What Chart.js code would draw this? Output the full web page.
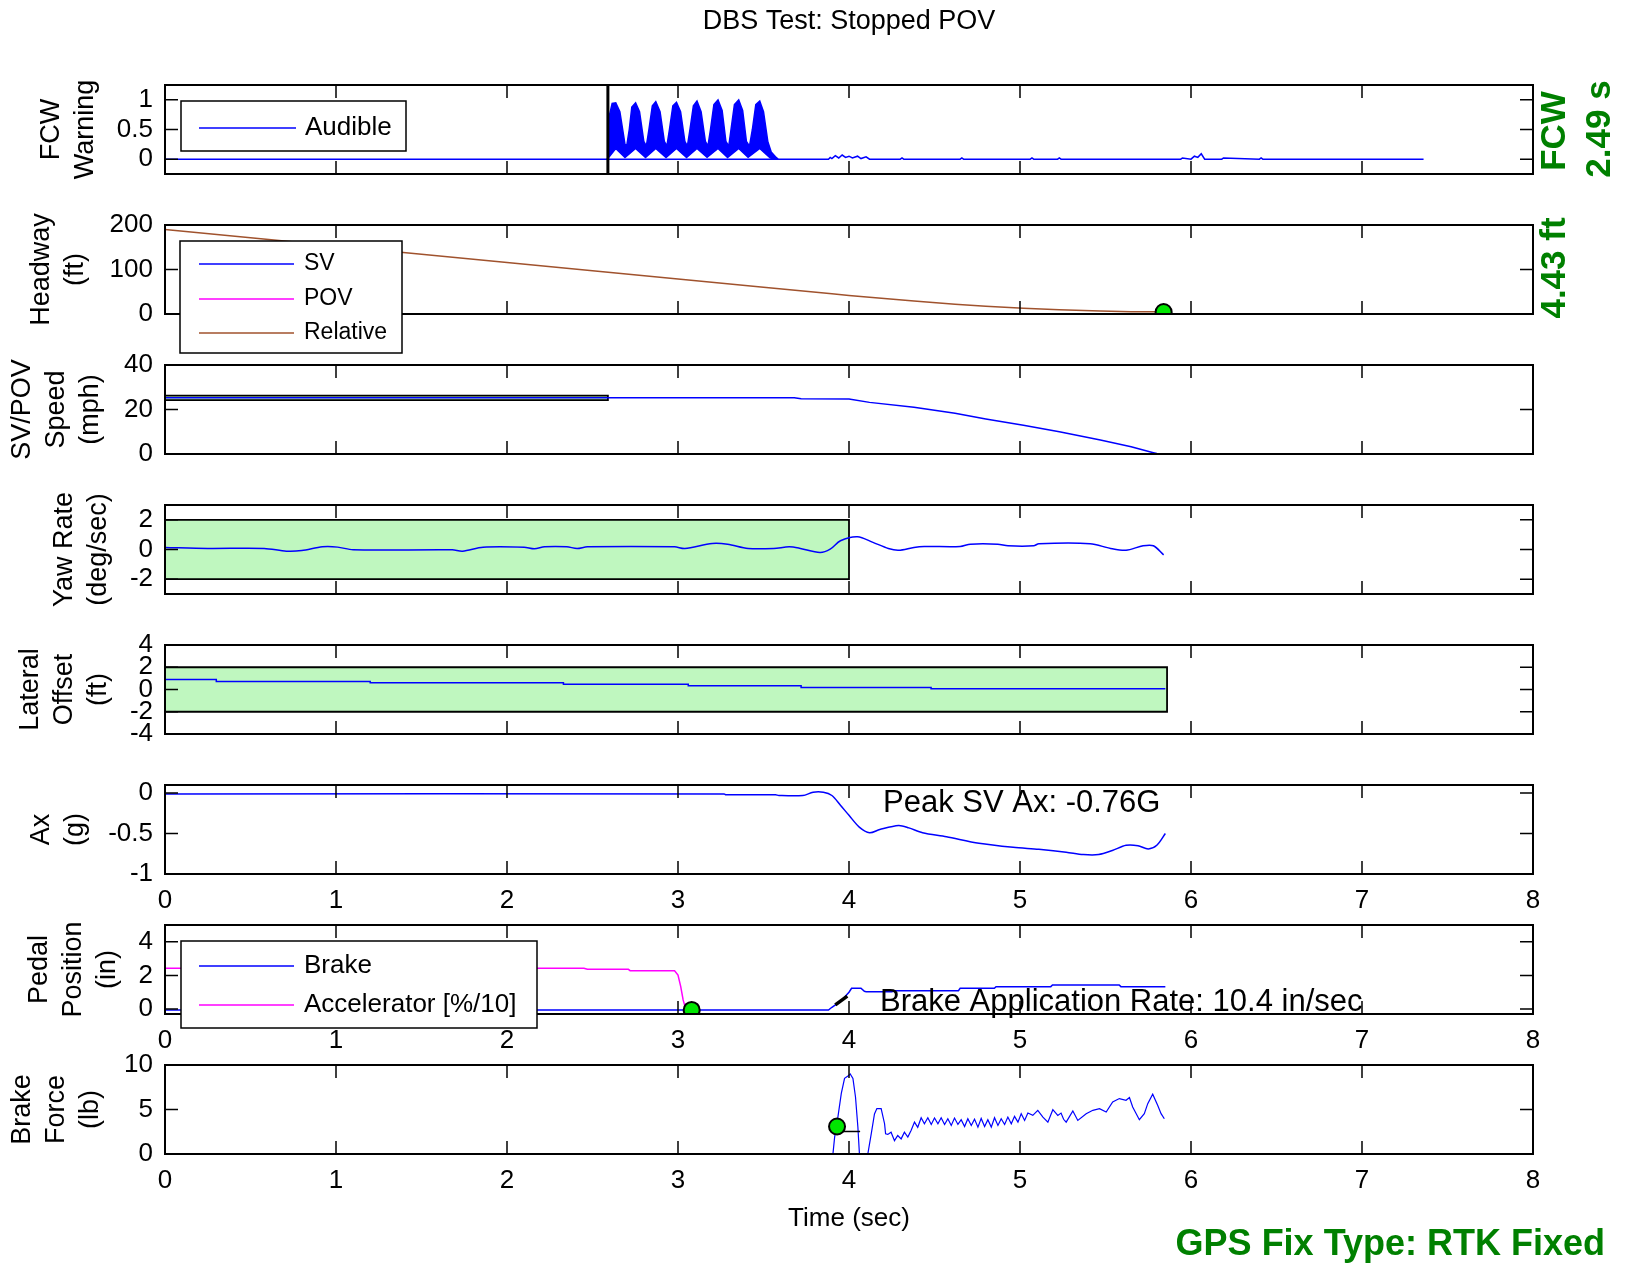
<!DOCTYPE html>
<html lang="en">
<head>
  <meta charset="UTF-8">
  <title>DBS Test: Stopped POV</title>
  <script src="https://cdn.jsdelivr.net/npm/chart.js"></script>
  <style>
    body { margin: 0; background: #fff; }
    #page { position: relative; width: 1629px; height: 1267px; overflow: hidden; background: #fff; }
    #page canvas { position: absolute; left: 0; }
  </style>
</head>
<body>
<div id="page"></div>
<script>
// ---- FCW warning (audible) ----
const fcwTicks = [0, 0.5, 1];
const audibleTime  = [0, 2.585, 3.585, 3.88, 3.89, 3.9, 3.92, 3.94, 3.96, 3.98, 4.0, 4.02, 4.05, 4.07, 4.1, 4.12, 4.3, 4.31, 4.32, 4.65, 4.66, 4.67, 5.06, 5.07, 5.08, 5.22, 5.23, 5.24, 5.94, 5.95, 6.0, 6.02, 6.04, 6.06, 6.08, 6.18, 6.19, 6.4, 6.41, 6.42, 7.36];
const audibleLevel = [0, 0, 0, 0, 0.03, 0.01, 0.06, 0.02, 0.07, 0.03, 0.05, 0.02, 0.05, 0.01, 0.04, 0, 0, 0.02, 0, 0, 0.02, 0, 0, 0.02, 0, 0, 0.02, 0, 0, 0.02, 0, 0.05, 0.03, 0.09, 0, 0, 0.02, 0, 0.02, 0, 0];
const burstHiTime = [2.585, 2.59, 2.6, 2.615, 2.636, 2.66, 2.69, 2.7, 2.715, 2.73, 2.752, 2.775, 2.8, 2.815, 2.83, 2.85, 2.87, 2.895, 2.92, 2.935, 2.95, 2.97, 2.991, 3.015, 3.04, 3.055, 3.07, 3.09, 3.111, 3.135, 3.16, 3.175, 3.19, 3.21, 3.234, 3.258, 3.28, 3.297, 3.31, 3.33, 3.355, 3.378, 3.4, 3.418, 3.435, 3.455, 3.478, 3.5, 3.525, 3.545, 3.57, 3.585];
const burstHi     = [0, 0.1, 0.75, 0.94, 0.95, 0.8, 0.25, 0.22, 0.5, 0.88, 0.95, 0.8, 0.3, 0.22, 0.5, 0.9, 0.97, 0.8, 0.3, 0.22, 0.5, 0.9, 0.96, 0.8, 0.3, 0.22, 0.5, 0.9, 0.98, 0.8, 0.3, 0.22, 0.5, 0.92, 1.0, 0.82, 0.3, 0.22, 0.5, 0.92, 1.0, 0.82, 0.3, 0.22, 0.5, 0.92, 0.98, 0.8, 0.3, 0.12, 0.04, 0];
const burstLoTime = [2.585, 2.6, 2.636, 2.69, 2.752, 2.81, 2.87, 2.93, 2.991, 3.05, 3.111, 3.17, 3.234, 3.29, 3.355, 3.41, 3.478, 3.54, 3.585];
const burstLo     = [0, 0.05, 0.18, 0.03, 0.18, 0.03, 0.18, 0.03, 0.18, 0.03, 0.18, 0.03, 0.18, 0.03, 0.18, 0.03, 0.18, 0.02, 0];
const fcwOnsetTime  = [2.59, 2.59];
const fcwOnsetLevel = [-0.25, 1.25];

// ---- headway ----
const headwayTicks = [0, 100, 200];
const headwayTime = [0, 0.5, 1, 1.5, 2, 2.5, 3, 3.5, 3.9, 4.0, 4.12, 4.38, 4.62, 4.8, 5.02, 5.23, 5.47, 5.65, 5.78, 5.84];
const headwayRel  = [190, 171.5, 152.9, 134.4, 115.8, 97.3, 78.7, 60.2, 45.3, 41.6, 37.4, 29.0, 22.1, 17.6, 13.0, 9.5, 6.6, 5.3, 4.9, 4.43];
const headwayMarkTime = [5.84];
const headwayMark     = [4.43];

// ---- SV speed ----
const speedTicks = [0, 20, 40];
const speedTime = [0, 3.68, 3.72, 4.0, 4.12, 4.38, 4.62, 4.8, 5.02, 5.23, 5.47, 5.65, 5.78, 5.8];
const speedSV   = [25.3, 25.3, 24.8, 24.7, 23.2, 21.0, 18.3, 15.7, 12.9, 10.0, 6.3, 3.3, 0.6, 0.2];
const speedBandTime = [0, 0, 2.59, 2.59, 0];
const speedBand     = [24.2, 26.2, 26.2, 24.2, 24.2];

// ---- yaw rate ----
const yawTicks = [-2, 0, 2];
const yawTime = [0, 0.25, 0.58, 0.71, 0.8, 0.92, 1.01, 1.1, 1.68, 1.74, 1.86, 2.1, 2.16, 2.22, 2.35, 2.41, 2.47, 2.98, 3.04, 3.2, 3.29, 3.41, 3.56, 3.65, 3.71, 3.83, 3.89, 3.95, 4.05, 4.14, 4.23, 4.29, 4.38, 4.44, 4.65, 4.71, 4.87, 4.93, 5.08, 5.11, 5.41, 5.53, 5.62, 5.72, 5.78, 5.84];
const yawRate = [0.14, 0.07, 0.07, -0.11, -0.07, 0.18, 0.16, -0.02, -0.02, -0.11, 0.16, 0.16, 0.05, 0.18, 0.18, 0.07, 0.18, 0.18, 0.07, 0.41, 0.36, 0.07, 0.07, 0.18, 0.09, -0.2, 0.02, 0.59, 0.86, 0.48, 0.07, -0.05, 0.14, 0.2, 0.2, 0.36, 0.36, 0.25, 0.25, 0.39, 0.39, 0.07, -0.05, 0.25, 0.25, -0.36];
const yawBandTime = [0, 0, 4.0, 4.0, 0];
const yawBand     = [-2, 2, 2, -2, -2];

// ---- lateral offset ----
const latTicks = [-4, -2, 0, 2, 4];
const latTime   = [0, 0.3, 1.2, 2.33, 3.06, 3.72, 4.48, 5.85];
const latOffset = [0.9, 0.72, 0.6, 0.48, 0.33, 0.18, 0.06, 0.06];
const latBandTime = [0, 0, 5.86, 5.86, 0];
const latBand     = [-2, 2, 2, -2, -2];

// ---- longitudinal acceleration ----
const axTicks = [-1, -0.5, 0];
const axTime = [0, 3.27, 3.28, 3.57, 3.59, 3.73, 3.79, 3.85, 3.9, 3.95, 4.0, 4.06, 4.12, 4.18, 4.29, 4.35, 4.43, 4.57, 4.76, 4.96, 5.11, 5.27, 5.37, 5.46, 5.54, 5.62, 5.69, 5.75, 5.8, 5.85];
const axG    = [-0.01, -0.01, -0.02, -0.02, -0.03, -0.03, 0.01, 0.01, -0.03, -0.15, -0.275, -0.42, -0.49, -0.45, -0.4, -0.43, -0.49, -0.54, -0.62, -0.67, -0.695, -0.73, -0.76, -0.76, -0.71, -0.645, -0.65, -0.69, -0.645, -0.5];

// ---- pedal position ----
const pedalTicks = [0, 2, 4];
const brakeTime = [0, 3.88, 3.9, 3.95, 4.0, 4.015, 4.07, 4.09, 4.1, 4.25, 4.27, 4.64, 4.65, 4.85, 4.86, 5.18, 5.19, 5.58, 5.59, 5.85];
const brakePos  = [-0.06, -0.06, 0.1, 0.45, 1.0, 1.23, 1.23, 1.05, 1.03, 1.03, 1.09, 1.09, 1.23, 1.23, 1.33, 1.33, 1.43, 1.43, 1.33, 1.33];
const accelTime = [0, 2.45, 2.47, 2.71, 2.72, 2.98, 3.0, 3.016, 3.03, 3.045, 3.08];
const accelPos  = [2.42, 2.42, 2.36, 2.36, 2.28, 2.28, 2.02, 1.33, 0.54, 0.0, -0.06];
const rateTime = [3.92, 3.99];
const ratePos  = [0.24, 0.77];
const pedalMarkTime = [3.08];
const pedalMark     = [-0.06];

// ---- brake force ----
const forceTicks = [0, 5, 10];
const forceTime = [0, 3.9, 3.906, 3.916, 3.935, 3.955, 3.974, 3.994, 4.007, 4.023, 4.038, 4.052, 4.061, 4.075, 4.095, 4.11, 4.13, 4.149, 4.163, 4.188, 4.208, 4.214, 4.227, 4.246, 4.266, 4.285, 4.305, 4.324, 4.344, 4.363, 4.383, 4.402, 4.422, 4.441, 4.461,
  4.481, 4.5, 4.52, 4.539, 4.559, 4.578, 4.598, 4.617, 4.637, 4.656, 4.676, 4.695, 4.715, 4.734, 4.754, 4.773, 4.793, 4.812, 4.832, 4.851, 4.871, 4.89, 4.91, 4.929, 4.949, 4.968, 4.988, 5.007, 5.027, 5.046,
  5.075, 5.104, 5.134, 5.163, 5.192, 5.221, 5.24, 5.255, 5.27, 5.309, 5.338, 5.387, 5.426, 5.465, 5.504, 5.542, 5.581, 5.62, 5.64, 5.659, 5.698, 5.727, 5.747, 5.776, 5.805, 5.825, 5.844];
const forceLb = [0, 0, 0, 1.9, 4.15, 6.8, 8.5, 8.75, 9.0, 8.5, 6.4, 3.0, 0, -1, -1, 0, 2.26, 4.5, 5.1, 5.1, 3.4, 2.26, 2.2, 2.45, 1.5, 2.08, 1.7, 2.45, 1.9, 2.64, 3.58, 3.0, 4.08, 3.4, 4.08,
  3.32, 4.04, 3.4, 4.08, 3.32, 3.96, 3.21, 4.04, 3.32, 3.85, 3.09, 3.96, 3.21, 3.92, 3.02, 4.0, 3.09, 3.85, 3.02, 4.08, 3.21, 3.96, 3.32, 4.15, 3.4, 4.23, 3.58, 4.53, 3.77, 4.6,
  4.34, 4.91, 4.15, 3.58, 4.98, 4.34, 4.6, 3.9, 3.58, 4.83, 3.77, 4.53, 4.91, 5.09, 4.72, 5.85, 6.23, 6.04, 6.34, 5.28, 3.85, 4.53, 5.66, 6.72, 5.47, 4.53, 3.96];
const forceMarkTime = [3.93];
const forceMark     = [3.09];
const forceLineTime = [3.93, 4.065];
const forceLine     = [2.53, 2.53];

const timeTicks = [0, 1, 2, 3, 4, 5, 6, 7, 8];

const FONT = '"Liberation Sans", Arial, Helvetica, sans-serif';
Chart.defaults.font.family = FONT;
Chart.defaults.color = '#000';

const BLUE = '#0000ff', MAGENTA = '#ff00ff', BROWN = '#a0522d', BAND = '#bff7bf', GREEN = '#008000';

function pts(t, v) { return t.map((x, i) => ({ x, y: v[i] })); }

function lineSet(label, t, v, color, extra) {
  return Object.assign({ label, data: pts(t, v), borderColor: color, backgroundColor: color,
    borderWidth: 1.5, pointRadius: 0, tension: 0, fill: false, order: 1 }, extra || {});
}
function bandSet(t, v) {
  return { label: 'band', data: pts(t, v), borderColor: '#000', borderWidth: 1.8,
    backgroundColor: BAND, fill: 'shape', pointRadius: 0, order: 10 };
}
function markSet(t, v) {
  return { label: 'mark', data: pts(t, v), showLine: false, pointRadius: 8, pointHoverRadius: 8,
    pointBackgroundColor: '#00e600', pointBorderColor: '#000', pointBorderWidth: 2, order: 0 };
}

// box with inward ticks on all four sides
const framePlugin = {
  id: 'frame',
  afterDatasetsDraw(chart) {
    const { ctx, chartArea: a, scales: { x, y } } = chart;
    const len = 13;
    ctx.save();
    ctx.strokeStyle = '#000';
    ctx.lineWidth = 1.5;
    ctx.beginPath();
    x.ticks.forEach(t => {
      const px = x.getPixelForValue(t.value);
      ctx.moveTo(px, a.top); ctx.lineTo(px, a.top + len);
      ctx.moveTo(px, a.bottom); ctx.lineTo(px, a.bottom - len);
    });
    y.ticks.forEach(t => {
      const py = y.getPixelForValue(t.value);
      ctx.moveTo(a.left, py); ctx.lineTo(a.left + len, py);
      ctx.moveTo(a.right, py); ctx.lineTo(a.right - len, py);
    });
    ctx.stroke();
    ctx.lineWidth = 2;
    ctx.strokeRect(a.left, a.top, a.right - a.left, a.bottom - a.top);
    ctx.restore();
  }
};

function legendPlugin(lg, dy) {
  return {
    id: 'boxLegend',
    afterDraw(chart) {
      if (!lg) return;
      const ctx = chart.ctx;
      ctx.save();
      ctx.fillStyle = '#fff';
      ctx.fillRect(lg.x, lg.y - dy, lg.w, lg.h);
      ctx.strokeStyle = '#000';
      ctx.lineWidth = 1.5;
      ctx.strokeRect(lg.x, lg.y - dy, lg.w, lg.h);
      ctx.font = lg.size + 'px ' + FONT;
      ctx.textBaseline = 'middle';
      ctx.textAlign = 'left';
      lg.labels.forEach((lab, i) => {
        const ds = chart.data.datasets.find(d => d.label === lab);
        const yy = lg.rows[i] - dy;
        ctx.strokeStyle = ds.borderColor;
        ctx.lineWidth = 1.5;
        ctx.beginPath();
        ctx.moveTo(lg.lineFrom, yy);
        ctx.lineTo(lg.lineTo, yy);
        ctx.stroke();
        ctx.fillStyle = '#000';
        ctx.fillText(lab, lg.textX, yy);
      });
      ctx.restore();
    }
  };
}

function notesPlugin(items, dy) {
  return {
    id: 'notes',
    afterDraw(chart) {
      const ctx = chart.ctx;
      (items || []).forEach(n => {
        ctx.save();
        ctx.font = (n.bold ? 'bold ' : '') + n.size + 'px ' + FONT;
        ctx.fillStyle = n.color || '#000';
        ctx.textAlign = n.align || 'left';
        ctx.textBaseline = n.baseline || 'alphabetic';
        ctx.translate(n.x, n.y - dy);
        if (n.rotate) ctx.rotate(-Math.PI / 2);
        ctx.fillText(n.text, 0, 0);
        ctx.restore();
      });
    }
  };
}

function makePanel(p) {
  const canvas = document.createElement('canvas');
  canvas.width = 1629;
  canvas.height = p.height;
  canvas.style.top = p.canvasTop + 'px';
  document.getElementById('page').appendChild(canvas);
  const dy = p.canvasTop;
  const xAxisH = p.xLabels ? (p.xAxisH || 45) : 0;

  return new Chart(canvas, {
    type: 'line',
    data: { datasets: p.datasets },
    options: {
      responsive: false,
      animation: false,
      devicePixelRatio: 1,
      events: [],
      layout: { padding: { left: 0, right: 96, top: p.title ? 0 : p.top - dy, bottom: p.padBottom } },
      plugins: {
        legend: { display: false },
        tooltip: { enabled: false },
        title: p.title ? {
          display: true, text: p.title, fullSize: false, color: '#000',
          font: { size: 27, weight: 'normal', lineHeight: 1.2 },
          padding: { top: 5, bottom: p.top - 5 - 32.4 }
        } : { display: false }
      },
      scales: {
        x: {
          type: 'linear', min: 0, max: 8,
          afterBuildTicks: s => { s.ticks = timeTicks.map(v => ({ value: v })); },
          grid: { display: false, drawTicks: false },
          border: { display: false },
          ticks: { display: !!p.xLabels, padding: 11, maxRotation: 0, autoSkip: false, font: { size: 26 } },
          afterFit: s => { s.height = xAxisH; },
          title: p.xTitle ? { display: true, text: p.xTitle, font: { size: 26, lineHeight: 1.2 }, padding: { top: 0, bottom: 33 } } : { display: false }
        },
        y: {
          min: p.yMin, max: p.yMax,
          afterBuildTicks: s => { s.ticks = p.yTicks.map(v => ({ value: v })); },
          grid: { display: false, drawTicks: false },
          border: { display: false },
          ticks: { padding: 12, autoSkip: false, font: { size: 26 }, callback: v => String(v) },
          afterFit: s => { s.width = 165; },
          title: { display: true, text: p.yTitle, font: { size: 27, lineHeight: 1.25 }, padding: { top: p.titlePad, bottom: 0 } }
        }
      }
    },
    plugins: [framePlugin, legendPlugin(p.legend, dy), notesPlugin(p.notes, dy)]
  });
}

// 1. FCW warning
makePanel({
  top: 85, canvasTop: 0, height: 219, padBottom: 45,
  title: 'DBS Test: Stopped POV',
  yMin: -0.25, yMax: 1.25, yTicks: fcwTicks, yTitle: ['FCW', 'Warning'], titlePad: 35,
  datasets: [
    lineSet('onset', fcwOnsetTime, fcwOnsetLevel, '#000', { borderWidth: 3, order: 0 }),
    lineSet('burstHi', burstHiTime, burstHi, BLUE, { fill: '+1', backgroundColor: BLUE }),
    lineSet('burstLo', burstLoTime, burstLo, BLUE),
    lineSet('Audible', audibleTime, audibleLevel, BLUE)
  ],
  legend: { x: 181, y: 101, w: 225, h: 50, size: 26, labels: ['Audible'], rows: [128], lineFrom: 199, lineTo: 296, textX: 305 },
  notes: [
    { text: 'FCW', x: 1555, y: 131, size: 35, bold: true, color: GREEN, rotate: true, align: 'center', baseline: 'middle' },
    { text: '2.49 s', x: 1600, y: 129, size: 35, bold: true, color: GREEN, rotate: true, align: 'center', baseline: 'middle' }
  ]
});

// 2. headway
makePanel({
  top: 225, canvasTop: 195, height: 164, padBottom: 45,
  yMin: 0, yMax: 200, yTicks: headwayTicks, yTitle: ['Headway', '(ft)'], titlePad: 25,
  datasets: [
    markSet(headwayMarkTime, headwayMark),
    lineSet('SV', [], [], BLUE),
    lineSet('POV', [], [], MAGENTA),
    lineSet('Relative', headwayTime, headwayRel, BROWN)
  ],
  legend: { x: 180, y: 241, w: 222, h: 112, size: 23, labels: ['SV', 'POV', 'Relative'], rows: [264, 299, 333], lineFrom: 199, lineTo: 294, textX: 304 },
  notes: [
    { text: '4.43 ft', x: 1555, y: 268, size: 35, bold: true, color: GREEN, rotate: true, align: 'center', baseline: 'middle' }
  ]
});

// 3. SV / POV speed
makePanel({
  top: 365, canvasTop: 335, height: 164, padBottom: 45,
  yMin: 0, yMax: 40, yTicks: speedTicks, yTitle: ['SV/POV', 'Speed', '(mph)'], titlePad: 6,
  datasets: [
    lineSet('SV', speedTime, speedSV, BLUE),
    bandSet(speedBandTime, speedBand)
  ]
});

// 4. yaw rate
makePanel({
  top: 505, canvasTop: 475, height: 164, padBottom: 45,
  yMin: -3, yMax: 3, yTicks: yawTicks, yTitle: ['Yaw Rate', '(deg/sec)'], titlePad: 48,
  datasets: [
    lineSet('Yaw', yawTime, yawRate, BLUE, { tension: 0.3 }),
    bandSet(yawBandTime, yawBand)
  ]
});

// 5. lateral offset
makePanel({
  top: 645, canvasTop: 615, height: 164, padBottom: 45,
  yMin: -4, yMax: 4, yTicks: latTicks, yTitle: ['Lateral', 'Offset', '(ft)'], titlePad: 14,
  datasets: [
    lineSet('Lateral', latTime, latOffset, BLUE, { stepped: true }),
    bandSet(latBandTime, latBand)
  ]
});

// 6. longitudinal acceleration
makePanel({
  top: 785, canvasTop: 755, height: 179, padBottom: 15, xLabels: true,
  yMin: -1, yMax: 0.1, yTicks: axTicks, yTitle: ['Ax', '(g)'], titlePad: 25,
  datasets: [ lineSet('Ax', axTime, axG, BLUE, { tension: 0.3 }) ],
  notes: [ { text: 'Peak SV Ax: -0.76G', x: 883, y: 812, size: 31 } ]
});

// 7. pedal position
makePanel({
  top: 925, canvasTop: 895, height: 179, padBottom: 15, xLabels: true,
  yMin: -0.3, yMax: 5, yTicks: pedalTicks, yTitle: ['Pedal', 'Position', '(in)'], titlePad: 23,
  datasets: [
    markSet(pedalMarkTime, pedalMark),
    lineSet('rate', rateTime, ratePos, '#000', { borderWidth: 3.5, order: 0 }),
    lineSet('Brake', brakeTime, brakePos, BLUE),
    lineSet('Accelerator [%/10]', accelTime, accelPos, MAGENTA, { order: 2 })
  ],
  legend: { x: 181, y: 941, w: 356, h: 87, size: 26, labels: ['Brake', 'Accelerator [%/10]'], rows: [966, 1005], lineFrom: 199, lineTo: 294, textX: 304 },
  notes: [ { text: 'Brake Application Rate: 10.4 in/sec', x: 880, y: 1011, size: 31 } ]
});

// 8. brake force
makePanel({
  top: 1065, canvasTop: 1035, height: 232, padBottom: 0, xLabels: true, xAxisH: 113, xTitle: 'Time (sec)',
  yMin: 0, yMax: 10, yTicks: forceTicks, yTitle: ['Brake', 'Force', '(lb)'], titlePad: 6,
  datasets: [
    markSet(forceMarkTime, forceMark),
    lineSet('tick', forceLineTime, forceLine, '#000', { order: 0 }),
    lineSet('Force', forceTime, forceLb, BLUE, { borderWidth: 1.2 })
  ],
  notes: [ { text: 'GPS Fix Type: RTK Fixed', x: 1605, y: 1245, size: 36, bold: true, color: GREEN, align: 'right', baseline: 'middle' } ]
});
</script>
</body>
</html>
